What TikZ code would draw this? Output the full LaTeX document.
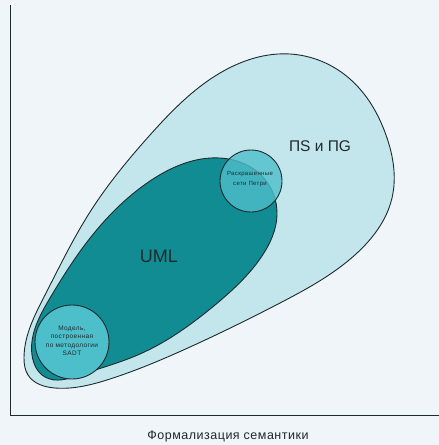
\documentclass[tikz,border=0pt]{standalone}
\usepackage{fontspec}
\usetikzlibrary{hobby}
\setmainfont{Liberation Sans}
\definecolor{bgc}{HTML}{EFF5F8}
\definecolor{outerc}{HTML}{C3E6ED}
\definecolor{umlc}{HTML}{118C92}
\definecolor{circc}{HTML}{4DBFCB}
\definecolor{linec}{HTML}{1E2A2E}
\tikzset{
  blob/.style={draw=linec, line width=0.9pt},
  smalltext/.style={font=\fontsize{6.5}{8.5}\selectfont\addfontfeature{LetterSpace=6}, align=center, text=linec},
  bigtext/.style={text=linec},
  axisline/.style={draw=linec, line width=1pt}
}
\begin{document}
\begin{tikzpicture}[x=1pt,y=-1pt]
\fill[bgc] (0,0) rectangle (439,445);
\useasboundingbox (0,0) rectangle (439,445);
% axes
\coordinate (top) at (10,5);
\coordinate (origin) at (10,415);
\coordinate (right) at (439,415);
\draw[axisline] (top) -- (origin) -- (right);
% outer blob
\draw[blob, fill=outerc, use Hobby shortcut, closed=true]
 (24,358) .. (45,295) .. (90,212) .. (150,135) .. (220,73) .. (290,54) .. (350,79)
 .. (386,135) .. (392,198) .. (356,254) .. (280,303) .. (190,347) .. (110,379)
 .. (55,388) .. (28,375);
% UML blob
\draw[blob, fill=umlc, use Hobby shortcut, closed=true]
 (32,355) .. (50,298) .. (87,242) .. (150,181) .. (220,158) .. (263,177) .. (277,215)
 .. (262,256) .. (215,305) .. (140,354) .. (80,375) .. (45,377);
% circles
\node[blob, fill=circc, circle, minimum size=74pt, inner sep=0pt] (sadt) at (72,342) {};
\node[smalltext] (sadtlbl) at (72,341) {Модель,\\построенная\\по методологии\\SADT};
\node[blob, fill=circc, fill opacity=0.8, circle, minimum size=62pt, inner sep=0pt] (petri) at (251,181) {};
\node[smalltext, font=\fontsize{6}{10}\selectfont\addfontfeature{LetterSpace=6}] (petrilbl) at (250,179) {Раскрашенные\\сети Петри};
% labels
\node[bigtext, font=\fontsize{15.5}{17}\selectfont] (ps) at (320,146) {ПS и ПG};
\node[bigtext, font=\fontsize{18}{20}\selectfont] (uml) at (159,256) {UML};
\node[bigtext, font=\fontsize{12.5}{14}\selectfont\addfontfeature{LetterSpace=4}] (xlbl) at (228,436) {Формализация семантики};
\end{tikzpicture}
\end{document}
